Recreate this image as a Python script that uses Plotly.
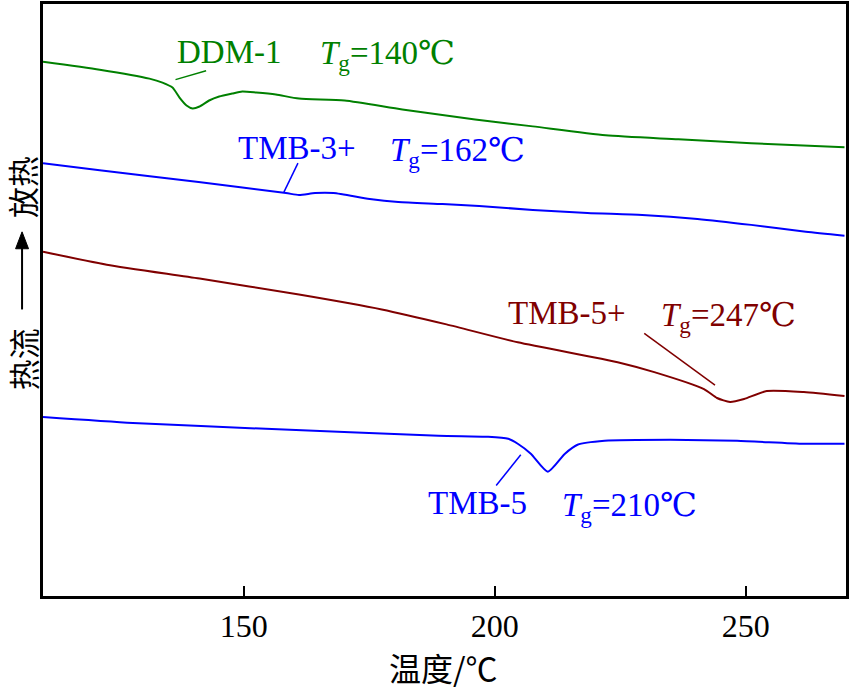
import plotly.graph_objects as go

# ---------------- data (temperature in °C, heat flow in arbitrary units) ----------------
ddm1_T = [110, 121.3, 131.2, 133.8, 135.8, 137.2, 138.6, 139.8, 141.2, 143.1, 145.1, 147.7,
          149.7, 152.5, 156.4, 161, 170.1, 181.6, 196.1, 207.6, 222.1, 236.6, 251.1, 269.7]
ddm1_H = [537, 529, 520, 516, 511, 501, 493, 490, 492, 498, 502, 505,
          507, 506, 504, 500, 498, 489, 479, 472, 463, 459, 455, 451]

tmb3p_T = [110, 121.3, 141, 158.4, 161, 164.2, 167.9, 175.1, 180.8, 189.6, 196.9, 207.6,
           218.5, 229.4, 240.4, 251.1, 262, 269.7]
tmb3p_H = [435, 428, 416, 405, 403, 405, 405, 399, 396, 394, 392, 388,
           385, 383, 379, 373, 366, 362]

tmb5p_T = [110, 122.7, 141.2, 161, 177.5, 190.4, 204.6, 224.5, 231.8, 241.7, 244.3, 246.9,
           249.7, 254.2, 261.6, 269.7]
tmb5p_H = [346, 333, 319, 303, 288, 273, 255, 235, 225, 208, 199, 195,
           198, 206, 205, 201]

tmb5_T = [110, 127.9, 154.4, 188.8, 198.7, 202.7, 204.6, 207.2, 210.6, 214, 216.5, 221.9,
          235, 248.3, 261.6, 269.7]
tmb5_H = [180, 174, 168, 161, 160, 158, 153, 143, 125, 143, 152, 156,
          157, 156, 153, 153]

names = ["DDM-1", "TMB-3+", "TMB-5+", "TMB-5"]
tg_values = [140, 162, 247, 210]
colors = ["#008000", "#0000FF", "#800000", "#0000FF"]

x_ticks = [150, 200, 250]

# label placement (name x, Tg x, y) and leader lines (x0, y0, x1, y1)
label_pos = [(136.3, 164.8, 547), (148.5, 178.7, 450), (202.3, 232.8, 284), (186.4, 213.0, 93)]
leaders = [(136.4, 519, 142.5, 528), (158.0, 406, 160.8, 435),
           (243.9, 212, 229.8, 264), (205.2, 142, 200.3, 111)]

SERIF = "Times New Roman, Liberation Serif, DejaVu Serif, serif"
CJK = "SimSun, Noto Sans CJK SC, sans-serif"

fig = go.Figure()
for T, H, c, n in zip([ddm1_T, tmb3p_T, tmb5p_T, tmb5_T],
                      [ddm1_H, tmb3p_H, tmb5p_H, tmb5_H], colors, names):
    fig.add_trace(go.Scatter(x=T, y=H, mode="lines", name=n,
                             line=dict(color=c, width=2, shape="spline", smoothing=0.6)))

annotations = []
for (xn, xt, y), n, tg, c in zip(label_pos, names, tg_values, colors):
    annotations.append(dict(x=xn, y=y, xref="x", yref="y", text=n, showarrow=False,
                            xanchor="left", yanchor="middle",
                            font=dict(family=SERIF, size=33, color=c)))
    annotations.append(dict(x=xt, y=y - 4, xref="x", yref="y",
                            text="<i>T</i><sub>g</sub>=%d℃" % tg, showarrow=False,
                            xanchor="left", yanchor="middle",
                            font=dict(family=SERIF, size=33, color=c)))

# leader lines
for (x0, y0, x1, y1), c in zip(leaders, colors):
    fig.add_shape(type="line", xref="x", yref="y", x0=x0, y0=y0, x1=x1, y1=y1,
                  line=dict(color=c, width=1.5))

# y-axis title pieces
ax_x = -21 / 805
annotations.append(dict(x=ax_x, y=0.691, xref="paper", yref="paper", text="放热", textangle=-90,
                        showarrow=False, xanchor="center", yanchor="middle",
                        font=dict(family=CJK, size=31, color="black")))
annotations.append(dict(x=ax_x, y=0.40, xref="paper", yref="paper", text="热流", textangle=-90,
                        showarrow=False, xanchor="center", yanchor="middle",
                        font=dict(family=CJK, size=31, color="black")))
tip_y = (596 - 230) / 595
base_y = (596 - 247) / 595
tail_y = (596 - 308) / 595
hw = 6.5 / 805
fig.add_shape(type="line", xref="paper", yref="paper", x0=ax_x, x1=ax_x, y0=tail_y, y1=base_y + 0.005,
              line=dict(color="black", width=2))
fig.add_shape(type="path", xref="paper", yref="paper",
              path=f"M {ax_x} {tip_y} L {ax_x - hw} {base_y} L {ax_x + hw} {base_y} Z",
              fillcolor="black", line=dict(color="black", width=1))

# x-axis title
annotations.append(dict(x=(444 - 43) / 805, y=(596 - 667) / 595, xref="paper", yref="paper",
                        text="温度/℃", showarrow=False, xanchor="center", yanchor="middle",
                        font=dict(family=CJK, size=32, color="black")))

fig.update_layout(
    width=850, height=691,
    margin=dict(l=43, r=2, t=1, b=95),
    plot_bgcolor="white", paper_bgcolor="white",
    showlegend=False,
    annotations=annotations,
    xaxis=dict(range=[110, 270], tickvals=x_ticks, ticks="inside", ticklen=10, tickwidth=2,
               tickcolor="black", showline=True, linecolor="black", linewidth=2.5, mirror=True,
               showgrid=False, zeroline=False, ticklabelstandoff=0,
               tickfont=dict(family=SERIF, size=32, color="black")),
    yaxis=dict(range=[0, 595], showticklabels=False, ticks="", showline=True, linecolor="black",
               linewidth=2.5, mirror=True, showgrid=False, zeroline=False),
)

fig.write_html("out.html", config={"displayModeBar": False},
               post_script="document.body.style.margin='0';document.body.style.overflow='hidden';")
